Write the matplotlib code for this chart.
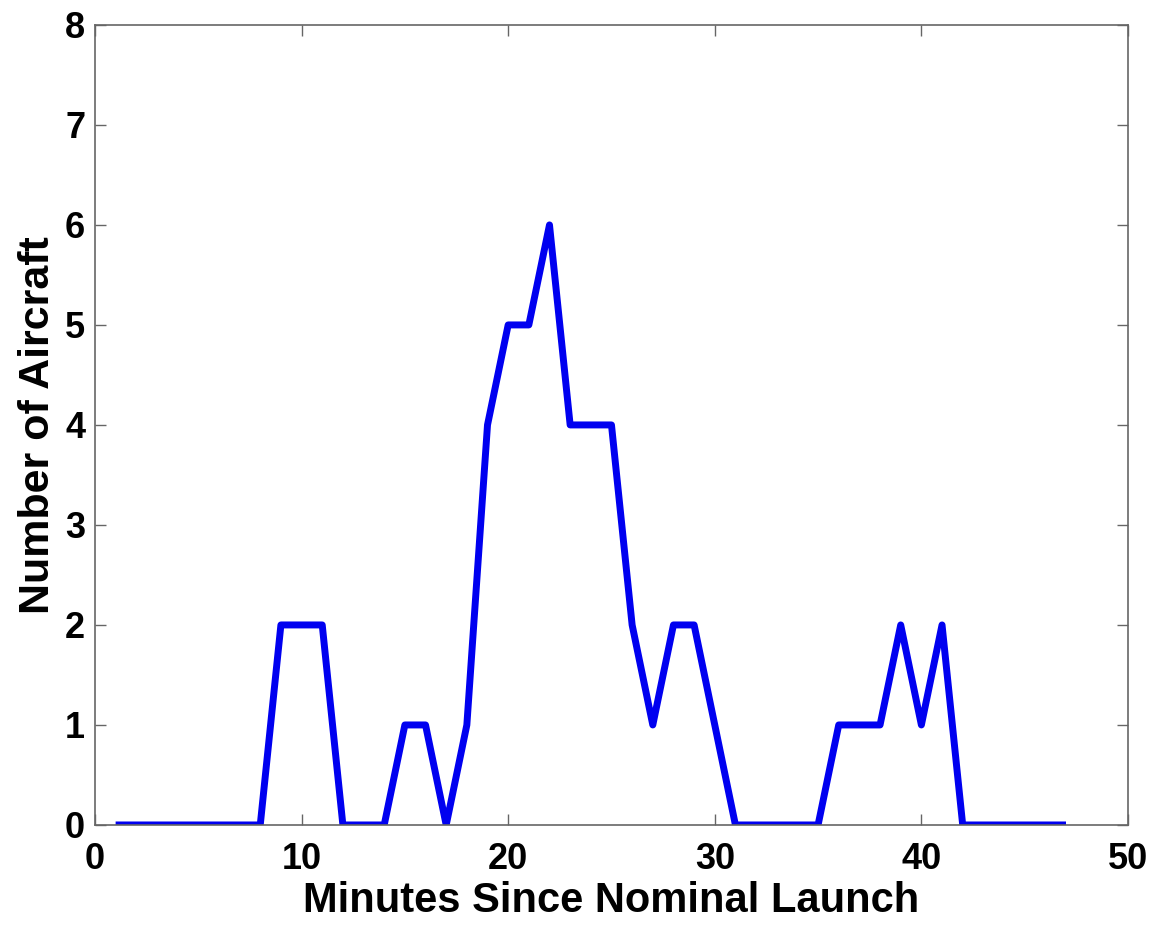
import numpy as np
import matplotlib
matplotlib.use('Agg')
import matplotlib.pyplot as plt

minutes = list(range(1, 48))
aircraft = [0, 0, 0, 0, 0, 0, 0, 0,
            2, 2, 2,
            0, 0, 0,
            1, 1,
            0,
            1, 4, 5, 5, 6, 4, 4, 4, 2, 1, 2, 2, 1,
            0, 0, 0, 0, 0,
            1, 1, 1, 2, 1, 2,
            0, 0, 0, 0, 0, 0]

xticks = [0, 10, 20, 30, 40, 50]
yticks = [0, 1, 2, 3, 4, 5, 6, 7, 8]

plt.rcParams['font.family'] = 'Liberation Sans'
plt.rcParams['font.weight'] = 'bold'

fig = plt.figure(figsize=(11.51, 9.33), dpi=100)
ax = fig.add_axes([0.0825, 0.1158, 0.8975, 0.8575])

ax.plot(minutes, aircraft, color='#0000f0', linewidth=5.0,
        solid_joinstyle='round', solid_capstyle='butt')

ax.set_xlim(0, 50)
ax.set_ylim(0, 8)
ax.set_xticks(xticks)
ax.set_yticks(yticks)
ax.tick_params(direction='in', length=8, width=1, color='#666666',
               top=True, right=True, labelsize=26)
ax.tick_params(axis='x', pad=12)
ax.tick_params(axis='y', pad=7)
for s in ax.spines.values():
    s.set_color('#666666')
    s.set_linewidth(1.2)

ax.set_xlabel('Minutes Since Nominal Launch', fontsize=30, fontweight='bold', labelpad=3)
ax.set_ylabel('Number of Aircraft', fontsize=31, fontweight='bold', labelpad=5)

plt.savefig('out.png', dpi=100)
